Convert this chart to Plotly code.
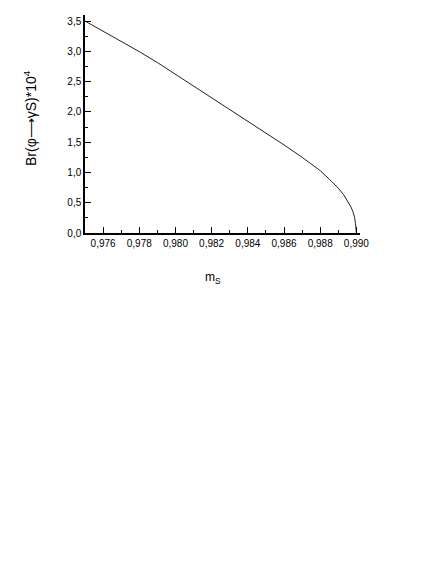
import plotly.graph_objects as go

m_s = [0.9750, 0.9760, 0.9770, 0.9780, 0.9790, 0.9800, 0.9810, 0.9820, 0.9830,
       0.9840, 0.9850, 0.9860, 0.9870, 0.9880, 0.9885, 0.9890, 0.9893, 0.9895,
       0.9897, 0.9898, 0.9899, 0.98995, 0.9900]
br = [3.50, 3.335, 3.167, 2.995, 2.815, 2.62, 2.43, 2.235, 2.04,
      1.85, 1.655, 1.455, 1.25, 1.03, 0.89, 0.74, 0.63, 0.54,
      0.43, 0.36, 0.26, 0.16, 0.0]
x_title = "m<sub>S</sub>"
y_title = "Br(φ⟶γS)*10<sup>4</sup>"

fig = go.Figure()
fig.add_trace(go.Scatter(x=m_s, y=br, mode="lines",
                         line=dict(color="#222222", width=1),
                         showlegend=False, hoverinfo="skip"))

font = "Liberation Sans, Arial, Helvetica, sans-serif"
fig.update_layout(
    width=436, height=564,
    margin=dict(l=77, r=84, t=7, b=339),
    paper_bgcolor="white", plot_bgcolor="white",
    separators=",.",
    font=dict(family=font, size=10, color="black"),
)
fig.update_xaxes(
    range=[0.975, 0.9902], tick0=0.976, dtick=0.002, tickformat=".3f",
    automargin=False,
    showgrid=False, zeroline=False,
    showline=True, linecolor="black", linewidth=1.5,
    ticks="inside", ticklen=6, tickwidth=1.3, tickcolor="black",
    minor=dict(dtick=0.001, tick0=0.975, ticks="inside", ticklen=3, tickwidth=1.3, tickcolor="black"),
    tickfont=dict(size=10),
)
fig.update_yaxes(
    range=[0, 3.6], tick0=0, dtick=0.5, tickformat=".1f",
    automargin=False,
    showgrid=False, zeroline=False,
    showline=True, linecolor="black", linewidth=1.5,
    ticks="inside", ticklen=6, tickwidth=1.3, tickcolor="black",
    minor=dict(dtick=0.25, ticks="inside", ticklen=3, tickwidth=1.3, tickcolor="black"),
    tickfont=dict(size=10),
)
fig.add_annotation(text=x_title, xref="paper", yref="paper", x=0.465, y=-0.206,
                   xanchor="center", yanchor="middle", showarrow=False,
                   font=dict(size=12))
fig.add_annotation(text=y_title, xref="paper", yref="paper", x=-0.2, y=0.5275,
                   xanchor="center", yanchor="middle", textangle=-90, showarrow=False,
                   font=dict(size=14))

fig.write_html("out.html")
